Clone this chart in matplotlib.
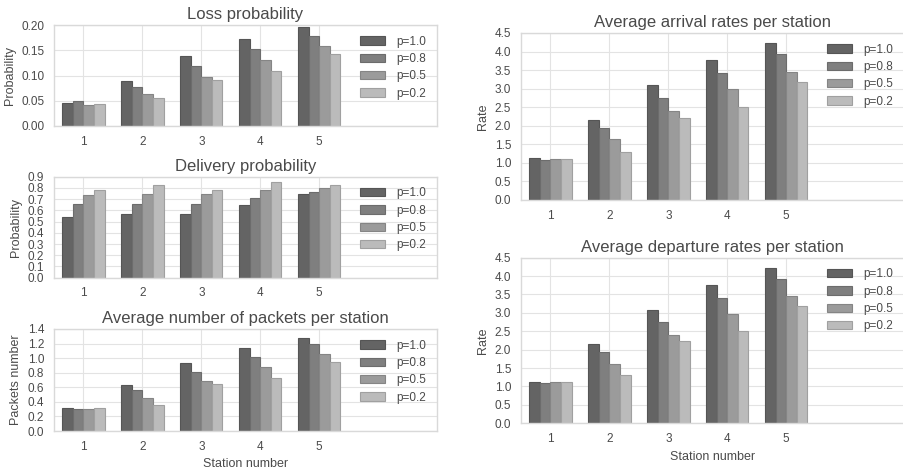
import numpy as np
import matplotlib
matplotlib.use('Agg')
import matplotlib.pyplot as plt
import seaborn as sns

# station numbers and the four p values
stations = [1, 2, 3, 4, 5]
p_labels = ['p=1.0', 'p=0.8', 'p=0.5', 'p=0.2']

# one list per p value (1.0, 0.8, 0.5, 0.2), one entry per station
loss = [[0.046, 0.090, 0.139, 0.172, 0.197],
        [0.050, 0.077, 0.119, 0.153, 0.179],
        [0.041, 0.063, 0.097, 0.131, 0.159],
        [0.044, 0.055, 0.092, 0.108, 0.142]]

delivery = [[0.545, 0.565, 0.565, 0.645, 0.745],
            [0.655, 0.655, 0.660, 0.710, 0.765],
            [0.735, 0.745, 0.745, 0.785, 0.800],
            [0.785, 0.830, 0.785, 0.850, 0.830]]

packets = [[0.31, 0.63, 0.93, 1.14, 1.27],
           [0.30, 0.56, 0.81, 1.02, 1.19],
           [0.30, 0.45, 0.69, 0.88, 1.05],
           [0.32, 0.36, 0.64, 0.73, 0.95]]

arrival = [[1.14, 2.16, 3.09, 3.76, 4.22],
           [1.09, 1.93, 2.74, 3.41, 3.92],
           [1.11, 1.63, 2.40, 2.98, 3.46],
           [1.11, 1.30, 2.21, 2.51, 3.19]]

departure = [[1.13, 2.16, 3.08, 3.76, 4.22],
             [1.09, 1.95, 2.76, 3.41, 3.92],
             [1.11, 1.62, 2.39, 2.97, 3.46],
             [1.13, 1.30, 2.23, 2.51, 3.18]]

sns.set_style("whitegrid")
plt.rcParams['font.family'] = ['Liberation Sans', 'DejaVu Sans']
text_col = '#4a4a4a'
plt.rcParams.update({
    'text.color': text_col,
    'axes.labelcolor': text_col,
    'xtick.color': text_col,
    'ytick.color': text_col,
    'axes.edgecolor': '#d9d9d9',
    'grid.color': '#e3e3e3',
    'xtick.major.pad': 7,
    'ytick.major.pad': 7,
})

bar_colors = ['#646464', '#7f7f7f', '#9b9b9b', '#bbbbbb']
edge_colors = ['#555555', '#6c6c6c', '#858585', '#a0a0a0']
width = 0.18


def bar_chart(ax, data, title, ylabel, yticks, fmt, xlabel=None):
    x = np.array(stations, dtype=float)
    for i, vals in enumerate(data):
        ax.bar(x + (i - 1.5) * width, vals, width, color=bar_colors[i],
               edgecolor=edge_colors[i], linewidth=0.8, label=p_labels[i], zorder=2)
    ax.set_xlim(0.5, 7.0)
    ax.set_xticks(stations)
    ax.set_ylim(yticks[0], yticks[-1])
    ax.set_yticks(yticks)
    ax.set_yticklabels([fmt % t for t in yticks])
    ax.tick_params(labelsize=8.5, length=0)
    ax.set_title(title, fontsize=12, pad=4)
    ax.set_ylabel(ylabel, fontsize=9)
    if xlabel:
        ax.set_xlabel(xlabel, fontsize=9)
    for s in ax.spines.values():
        s.set_linewidth(1.0)
    ax.legend(loc='upper right', frameon=False, fontsize=8.5,
              handlelength=2.1, handleheight=0.7, handletextpad=1.0,
              labelspacing=0.45, borderaxespad=0.5)


fig = plt.figure(figsize=(9.04, 4.71), dpi=100)

ax1 = fig.add_axes([0.0597, 0.7325, 0.4237, 0.2144])
ax2 = fig.add_axes([0.0597, 0.4104, 0.4237, 0.2144])
ax3 = fig.add_axes([0.0597, 0.0849, 0.4237, 0.2166])
ax4 = fig.add_axes([0.5763, 0.5754, 0.4237, 0.3546])
ax5 = fig.add_axes([0.5763, 0.1013, 0.4237, 0.3516])

bar_chart(ax1, loss, 'Loss probability', 'Probability',
          np.arange(0, 0.201, 0.05), '%.2f')
bar_chart(ax2, delivery, 'Delivery probability', 'Probability',
          np.arange(0, 0.91, 0.1), '%.1f')
bar_chart(ax3, packets, 'Average number of packets per station', 'Packets number',
          np.arange(0, 1.41, 0.2), '%.1f', xlabel='Station number')
bar_chart(ax4, arrival, 'Average arrival rates per station', 'Rate',
          np.arange(0, 4.51, 0.5), '%.1f')
bar_chart(ax5, departure, 'Average departure rates per station', 'Rate',
          np.arange(0, 4.51, 0.5), '%.1f', xlabel='Station number')

plt.savefig('out.png', dpi=100)
